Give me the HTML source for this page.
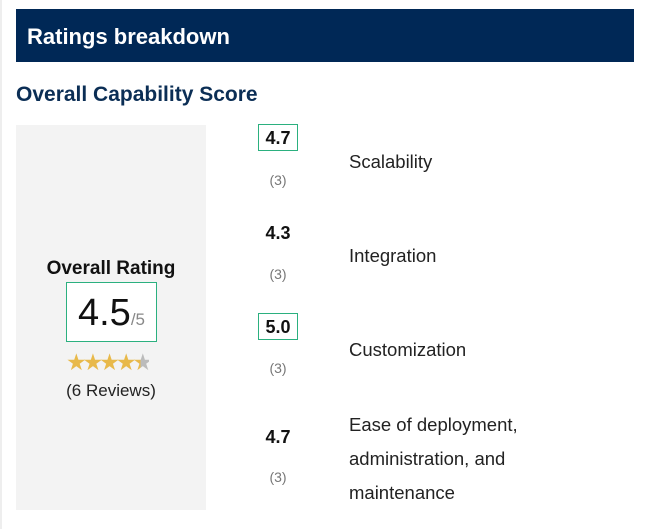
<!DOCTYPE html>
<html><head><style>
body{margin:0;width:650px;height:529px;background:#fff;font-family:"Liberation Sans",sans-serif;position:relative;overflow:hidden}
.a{position:absolute}
.hdr{left:16px;top:9px;width:618px;height:53px;background:#002856;color:#fff;font-size:22px;font-weight:bold;line-height:55px;box-sizing:border-box;padding-left:11px}
.ttl{left:16px;top:83px;color:#0b2e55;font-size:21px;font-weight:bold}
.panel{left:16px;top:125px;width:190px;height:385px;background:#f3f3f3}
.sc{width:40px;left:258px;text-align:center;font-size:18px;font-weight:bold;color:#111;height:27px;line-height:27px;box-sizing:border-box}
.bx{border:1.5px solid #2bb07f}
.cnt{width:40px;left:258px;text-align:center;font-size:14px;color:#777}
.lb{left:349px;font-size:18.5px;color:#222}
</style></head><body>
<div class="a" style="left:0;top:0;width:2px;height:529px;background:#eee"></div>
<div class="a hdr">Ratings breakdown</div>
<div class="a ttl">Overall Capability Score</div>
<div class="a panel"></div>
<div class="a" style="left:16px;width:190px;top:258px;text-align:center;font-size:19px;font-weight:bold;color:#111">Overall Rating</div>
<div class="a" style="left:66px;top:282px;width:91px;height:60px;box-sizing:border-box;background:#fff;border:1.5px solid #2bb07f;text-align:center;line-height:60px"><span style="font-size:38px;color:#111">4.5</span><span style="font-size:17px;color:#888">/5</span></div>
<div class="a" style="left:66px;top:349px;font-size:23px;letter-spacing:-4px;color:#e8b94a">★★★★<span style="background:linear-gradient(90deg,#e8b94a 50%,#bbb 50%);-webkit-background-clip:text;color:transparent">★</span></div>
<div class="a" style="left:16px;width:190px;top:381px;text-align:center;font-size:17px;color:#222">(6 Reviews)</div>

<div class="a sc bx" style="top:124px">4.7</div>
<div class="a cnt" style="top:172px">(3)</div>
<div class="a lb" style="top:151px">Scalability</div>

<div class="a sc" style="top:220px">4.3</div>
<div class="a cnt" style="top:266px">(3)</div>
<div class="a lb" style="top:245px">Integration</div>

<div class="a sc bx" style="top:313px">5.0</div>
<div class="a cnt" style="top:360px">(3)</div>
<div class="a lb" style="top:339px">Customization</div>

<div class="a sc" style="top:424px">4.7</div>
<div class="a cnt" style="top:469px">(3)</div>
<div class="a lb" style="top:408px;line-height:34px">Ease of deployment,<br>administration, and<br>maintenance</div>
</body></html>
